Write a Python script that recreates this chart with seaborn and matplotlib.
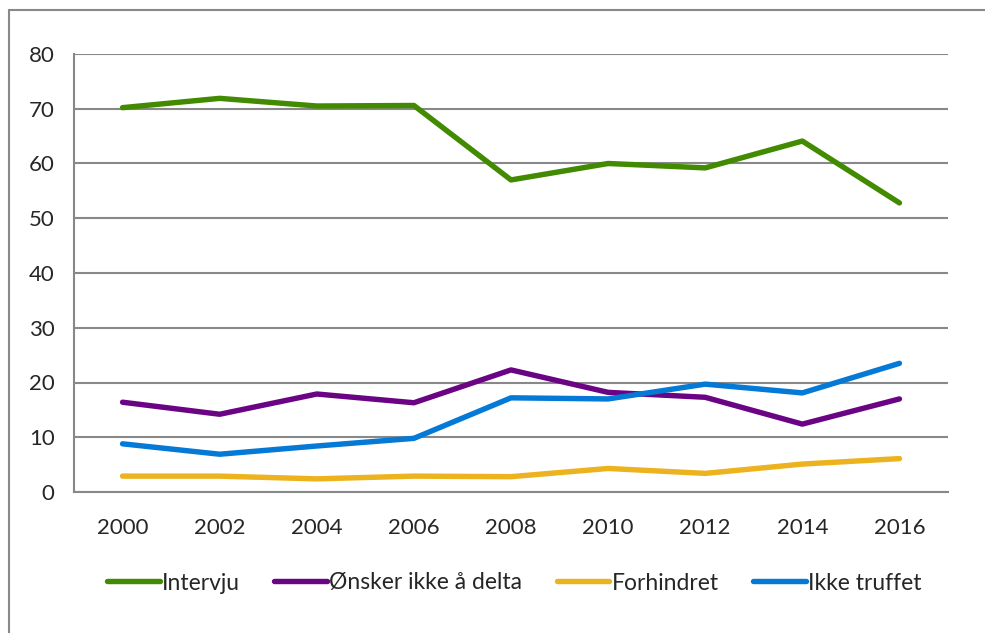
import pandas as pd
import matplotlib.pyplot as plt
import seaborn as sns
from matplotlib.lines import Line2D
from matplotlib.ticker import FixedLocator

sns.set_style("white")
plt.rcParams['font.family'] = ['Lato', 'DejaVu Sans']

# Data
years = ["2000", "2002", "2004", "2006", "2008", "2010", "2012", "2014", "2016"]
intervju = [70.2, 71.9, 70.5, 70.6, 57.0, 60.0, 59.2, 64.1, 52.8]
onsker_ikke = [16.4, 14.2, 17.9, 16.3, 22.3, 18.2, 17.3, 12.4, 17.0]
forhindret = [2.9, 2.9, 2.4, 2.9, 2.8, 4.3, 3.4, 5.1, 6.1]
ikke_truffet = [8.8, 6.9, 8.4, 9.8, 17.2, 17.0, 19.7, 18.1, 23.5]

series = ["Intervju", "Ønsker ikke å delta", "Forhindret", "Ikke truffet"]
colors = ["#428A00", "#6A0485", "#ECB31E", "#0479D6"]

df = pd.DataFrame({
    "year": years * 4,
    "value": intervju + onsker_ikke + forhindret + ikke_truffet,
    "series": [s for s in series for _ in years],
})

fig = plt.figure(figsize=(9.85, 6.33), dpi=100)
ax = fig.add_axes([74 / 985, 141 / 633, 874 / 985, 438 / 633])

sns.lineplot(data=df, x="year", y="value", hue="series", hue_order=series,
             palette=colors, linewidth=3.9, ax=ax, sort=False,
             solid_capstyle="round", legend=False)

grid_col = "#888888"
ax.set_xlim(-0.5, len(years) - 0.5)
ax.set_ylim(0, 80)
ax.set_yticks(range(0, 81, 10))
ax.yaxis.grid(True, color=grid_col, linewidth=1.5)
ax.set_axisbelow(True)
ax.set_xlabel("")
ax.set_ylabel("")

for side in ["top", "right"]:
    ax.spines[side].set_visible(False)
for side in ["left", "bottom"]:
    ax.spines[side].set_color(grid_col)
    ax.spines[side].set_linewidth(1.5)

ax.set_xticks(range(len(years)))
ax.set_xticklabels(years)
ax.xaxis.set_minor_locator(FixedLocator([i - 0.5 for i in range(len(years) + 1)]))
ax.tick_params(axis="x", which="major", length=0, pad=19, labelsize=16)
ax.tick_params(axis="x", which="minor", length=7, width=1.5, color=grid_col)
ax.tick_params(axis="y", length=7, width=1.5, color=grid_col, pad=7, labelsize=16)

handles = [Line2D([0], [0], color=c, lw=3.9, solid_capstyle="round") for c in colors]
fig.legend(handles, series, loc="center", bbox_to_anchor=(0.522, 50 / 633),
           ncol=4, frameon=False, fontsize=16.5, handlelength=2.3,
           handletextpad=0.1, columnspacing=1.5)

# outer chart frame
fig.add_artist(Line2D([9 / 985, 9 / 985], [0, 623 / 633], color="#888888", lw=1.5))
fig.add_artist(Line2D([9 / 985, 1], [623 / 633, 623 / 633], color="#888888", lw=1.5))

fig.savefig("out.png", dpi=100)
